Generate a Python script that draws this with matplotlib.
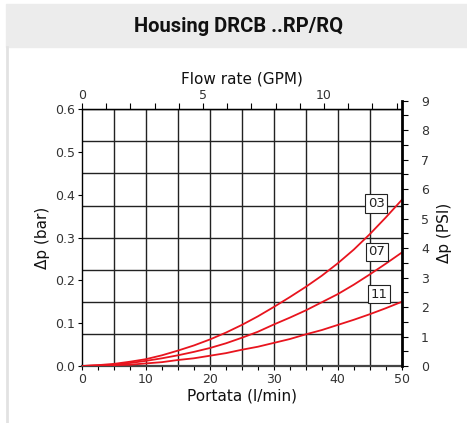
import numpy as np
import matplotlib
matplotlib.use("Agg")
import matplotlib.pyplot as plt
from matplotlib.patches import Rectangle
from matplotlib.lines import Line2D
from matplotlib.ticker import MultipleLocator

plt.rcParams['font.family'] = ['DejaVu Sans']

# flow (l/min) and pressure drop (bar) per housing variant
flow = [0, 2.5, 5, 7.5, 10, 12.5, 15, 17.5, 20, 22.5, 25,
        27.5, 30, 32.5, 35, 37.5, 40, 42.5, 45, 47.5, 50]
dp_03 = [0, 0.002, 0.005, 0.010, 0.016, 0.025, 0.036, 0.048, 0.062, 0.078, 0.096,
         0.116, 0.138, 0.161, 0.185, 0.211, 0.240, 0.272, 0.308, 0.347, 0.388]
dp_07 = [0, 0.001, 0.003, 0.007, 0.012, 0.018, 0.025, 0.033, 0.042, 0.053, 0.066,
         0.080, 0.097, 0.113, 0.130, 0.149, 0.168, 0.190, 0.214, 0.239, 0.265]
dp_11 = [0, 0.001, 0.002, 0.003, 0.006, 0.009, 0.014, 0.018, 0.024, 0.030, 0.038,
         0.045, 0.054, 0.063, 0.074, 0.084, 0.096, 0.108, 0.121, 0.135, 0.150]
curve_names = ['03', '07', '11']
label_pos = [(46.0, 0.380), (46.1, 0.267), (46.4, 0.168)]

LPM_PER_GPM = 3.785
PSI_PER_BAR = 14.5038
W, H = 467, 423
txt = '#333333'
red = '#e8141e'

fig = plt.figure(figsize=(W / 100, H / 100), dpi=100)

# header band and left border
fig.patches.append(Rectangle((6 / W, 1 - 47 / H), 1 - 6 / W, 43 / H,
                             transform=fig.transFigure, color='#ececec', zorder=0))
fig.lines.append(Line2D([6.5 / W, 6.5 / W], [0, 1 - 47 / H], transform=fig.transFigure,
                        color='#e2e2e2', lw=2))
fig.text(239 / W, 1 - 26 / H, 'Housing DRCB ..RP/RQ', ha='center', va='center',
         fontsize=14.5, fontweight='bold', family='Roboto', color='#111111')

x0, x1 = 82, 401.7
y0, y1 = 366, 109.3
ax = fig.add_axes([x0 / W, 1 - y0 / H, (x1 - x0) / W, (y0 - y1) / H])
ax.set_xlim(0, 50)
ax.set_ylim(0, 0.6)

# grid every 5 l/min and every 0.075 bar
for q in np.arange(5, 50, 5):
    ax.axvline(q, color='#222222', lw=1.0, zorder=1)
for p in np.arange(0.075, 0.6, 0.075):
    ax.axhline(p, color='#222222', lw=1.0, zorder=1)

for vals in (dp_03, dp_07, dp_11):
    ax.plot(flow, vals, color=red, lw=1.3, zorder=3)

for name, (qx, py) in zip(curve_names, label_pos):
    ax.text(qx, py, name, ha='center', va='center', fontsize=9.5, color='#222222', zorder=4,
            bbox=dict(boxstyle='square,pad=0.2', fc='white', ec='#222222', lw=0.8))

ax.set_xticks([0, 10, 20, 30, 40, 50])
ax.xaxis.set_minor_locator(MultipleLocator(2.5))
ax.set_yticks([0, 0.1, 0.2, 0.3, 0.4, 0.5, 0.6])
ax.set_yticklabels(['0.0', '0.1', '0.2', '0.3', '0.4', '0.5', '0.6'])
ax.tick_params(axis='both', which='major', labelsize=9, labelcolor=txt, length=3,
               width=0.8, pad=2)
ax.tick_params(axis='x', which='minor', length=3, width=0.8)
ax.set_xlabel('Portata (l/min)', fontsize=11, color='#111111', labelpad=2)
ax.set_ylabel('Δp (bar)', fontsize=11, color='#111111', labelpad=4)
ax.spines['right'].set_visible(False)
ax.spines['left'].set_linewidth(1.0)
ax.spines['bottom'].set_linewidth(1.6)
ax.spines['bottom'].set_color('#444444')
ax.spines['top'].set_linewidth(1.0)

# top axis in GPM
top = ax.secondary_xaxis('top', functions=(lambda q: q / LPM_PER_GPM,
                                           lambda g: g * LPM_PER_GPM))
top.set_xticks([0, 5, 10])
top.xaxis.set_minor_locator(MultipleLocator(1))
top.tick_params(which='major', labelsize=9, labelcolor=txt, length=4, width=0.8, pad=1)
top.tick_params(which='minor', length=4, width=0.8)
top.set_xlabel('Flow rate (GPM)', fontsize=11, color='#111111', labelpad=4)

# right axis in PSI, running up to 9 PSI above the plot frame
y_top = y0 - 9 / PSI_PER_BAR * (y0 - y1) / 0.6
axr = fig.add_axes([x0 / W, 1 - y0 / H, (x1 - x0) / W, (y0 - y_top) / H])
axr.patch.set_visible(False)
axr.set_ylim(0, 9)
axr.set_xticks([])
for s in ('left', 'top', 'bottom'):
    axr.spines[s].set_visible(False)
axr.spines['right'].set_linewidth(2.0)
axr.yaxis.tick_right()
axr.yaxis.set_label_position('right')
axr.set_yticks(range(10))
axr.yaxis.set_minor_locator(MultipleLocator(0.5))
axr.tick_params(axis='y', which='major', labelsize=9, labelcolor=txt, length=4,
                width=0.8, pad=10)
axr.tick_params(axis='y', which='minor', length=4, width=0.8)
axr.set_ylabel('Δp (PSI)', fontsize=11, color='#111111', labelpad=6)

fig.savefig('out.png', dpi=100)
